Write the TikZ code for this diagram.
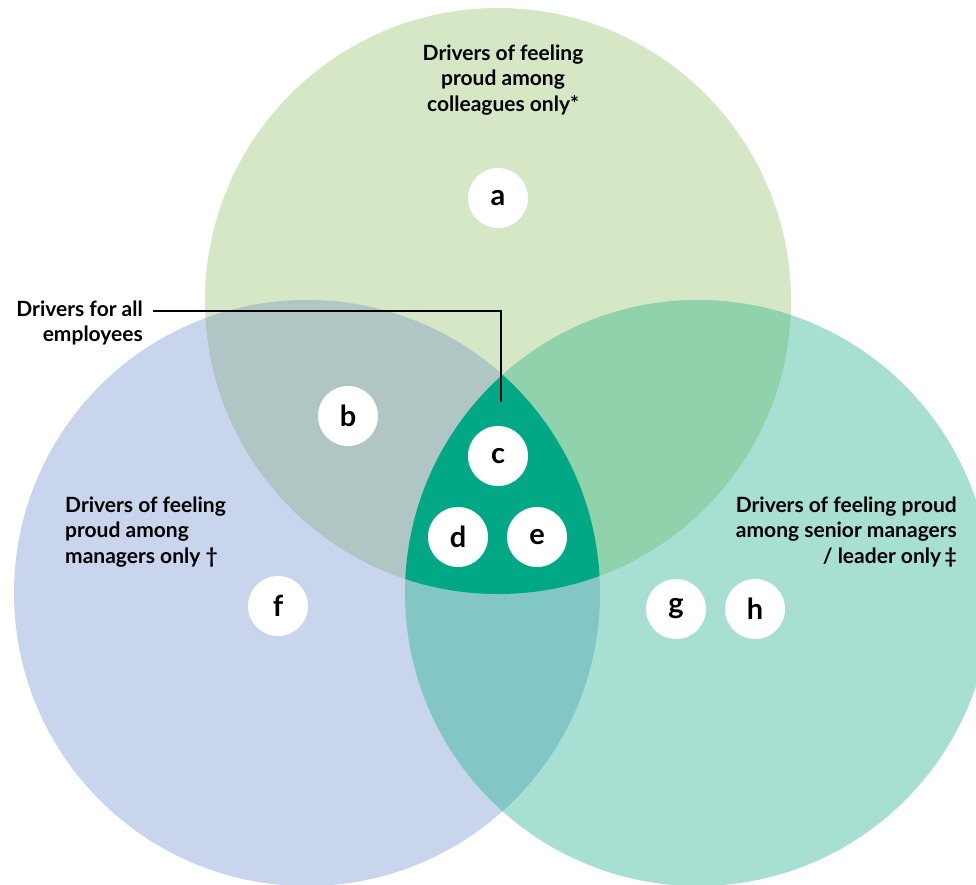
\documentclass[tikz,border=0pt]{standalone}
\usepackage{fontspec}
\setmainfont{Lato}
\usetikzlibrary{positioning, calc}

\definecolor{colleagueFill}{HTML}{D5E7C5}
\definecolor{managerFill}{HTML}{C9D5EC}
\definecolor{seniorFill}{HTML}{A7E0D3}
\definecolor{colMgrFill}{HTML}{AFC6C4}
\definecolor{colSenFill}{HTML}{8FD2AC}
\definecolor{mgrSenFill}{HTML}{82C6C6}
\definecolor{allFill}{HTML}{00A886}

\begin{document}
\begin{tikzpicture}[
  x=1pt, y=-1pt,
  label/.style={font=\bfseries\fontsize{21}{25.5}\selectfont, align=center, inner sep=0pt},
  letter/.style={circle, fill=white, minimum size=60pt, inner sep=0pt, font=\bfseries\fontsize{29}{29}\selectfont},
]
  \useasboundingbox (0,0) rectangle (976,884);

  % Circle centres and radius
  \def\R{293}
  \coordinate (top) at (498,301);
  \coordinate (lft) at (307,593);
  \coordinate (rgt) at (698,593);

  % The three sets
  \fill[colleagueFill] (top) circle (\R);
  \fill[managerFill] (lft) circle (\R);
  \fill[seniorFill] (rgt) circle (\R);

  % Pairwise overlaps
  \begin{scope}
    \clip (top) circle (\R);
    \fill[colMgrFill] (lft) circle (\R);
  \end{scope}
  \begin{scope}
    \clip (top) circle (\R);
    \fill[colSenFill] (rgt) circle (\R);
  \end{scope}
  \begin{scope}
    \clip (lft) circle (\R);
    \fill[mgrSenFill] (rgt) circle (\R);
  \end{scope}

  % Shared by all three
  \begin{scope}
    \clip (top) circle (\R);
    \clip (lft) circle (\R);
    \fill[allFill] (rgt) circle (\R);
  \end{scope}

  % Set labels
  \node (colleagues) [label] at (503,80) {Drivers of feeling\\proud among\\colleagues only*};
  \node (managers) [label, align=left, anchor=west] at (65,532) {Drivers of feeling\\proud among\\managers only \textdagger};
  \node (senior) [label, align=right, anchor=east] at (957,532) {Drivers of feeling proud\\among senior managers\\/ leader only\,\textdaggerdbl};
  \node (allnote) [label, align=right, anchor=east] at (143,323) {Drivers for all\\employees};

  % Callout into the centre
  \coordinate (cpoint) at (501,402);
  \draw[line width=1.2pt] ($(allnote.east)+(10,-12)$) -| (cpoint);

  % Driver markers
  \node (a) [letter] at (498,198) {a};
  \node (b) [letter] at (348,416) {b};
  \node (c) [letter] at (498,456) {c};
  \node (d) [letter] at (458,537) {d};
  \node (e) [letter] at (537,537) {e};
  \node (f) [letter] at (278,606) {f};
  \node (g) [letter] at (676,609) {g};
  \node (h) [letter] at (755,609) {h};

\end{tikzpicture}
\end{document}
